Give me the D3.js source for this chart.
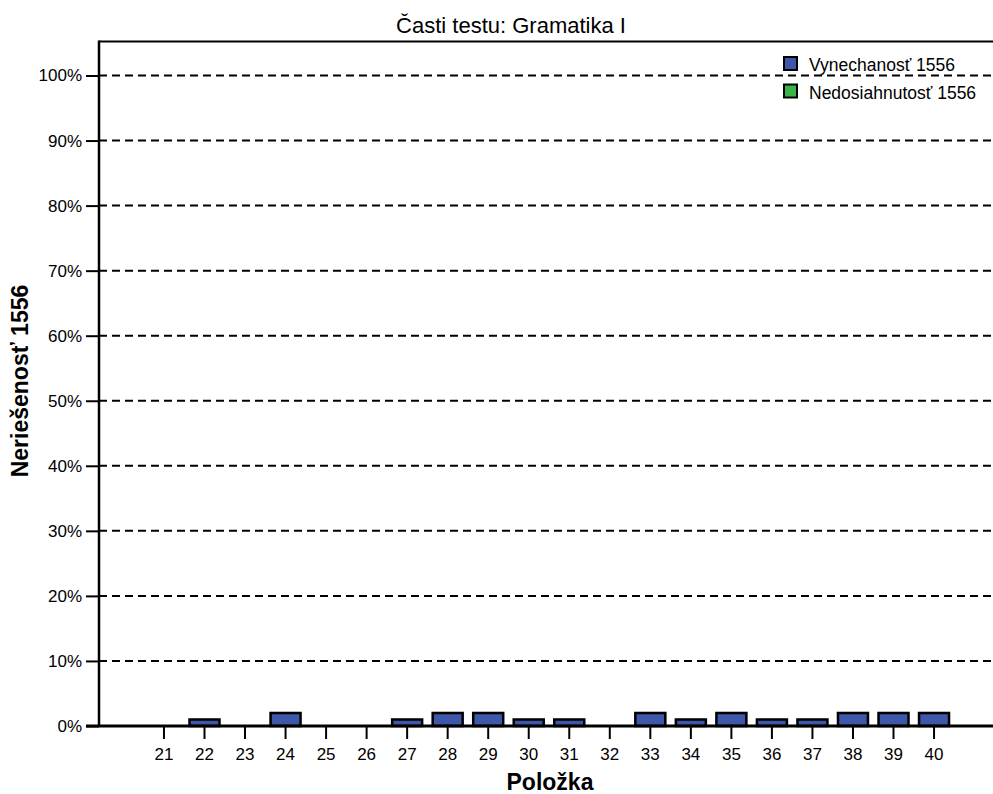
<!DOCTYPE html>
<html><head><meta charset="utf-8">
<script src="https://cdn.jsdelivr.net/npm/d3@7"></script>
<style>
body{margin:0;background:#fff;}
text{font-family:"Liberation Sans",Arial,sans-serif;}
</style></head>
<body><svg id="c" width="993" height="794"></svg>
<script>
const categories = ["21","22","23","24","25","26","27","28","29","30","31","32","33","34","35","36","37","38","39","40"];
const vynechanost = [0,1,0,2,0,0,1,2,2,1,1,0,2,1,2,1,1,2,2,2];
const nedosiahnutost = [0,0,0,0,0,0,0,0,0,0,0,0,0,0,0,0,0,0,0,0];
const yTicks = [0,10,20,30,40,50,60,70,80,90,100];
const legendLabels = ["Vynechanosť 1556","Nedosiahnutosť 1556"];
const colors = ["#3F57A9","#3BB34A"];

const svg = d3.select("#c");
const pLeft = 99, pRight = 993, pTop = 41.5, pBottom = 726;
const x = d3.scaleBand().domain(categories).range([143.7, 954.3]).padding(0);
const y = d3.scaleLinear().domain([0,100]).range([pBottom, 75.5]);
const FF = "Liberation Sans, Arial, sans-serif";

// gridlines
svg.append("g").selectAll("line").data(yTicks.filter(d=>d>0)).join("line")
  .attr("x1", pLeft).attr("x2", pRight)
  .attr("y1", d=>y(d)).attr("y2", d=>y(d))
  .attr("stroke","#000").attr("stroke-width",2).attr("stroke-dasharray","8,5");

// top frame
svg.append("line").attr("x1",pLeft).attr("x2",pRight).attr("y1",pTop).attr("y2",pTop)
  .attr("stroke","#000").attr("stroke-width",2);

// bars
const bw = 30;
svg.append("g").selectAll("rect").data(vynechanost).join("rect")
  .attr("x",(d,i)=>x(categories[i]) + x.bandwidth()/2 - bw/2)
  .attr("width",bw)
  .attr("y",d=>y(d)).attr("height",d=>y(0)-y(d))
  .attr("fill",colors[0]).attr("stroke","#000").attr("stroke-width",2.5);

// y axis
const yAxis = d3.axisLeft(y).tickValues(yTicks).tickFormat(d=>d+"%").tickSize(13).tickPadding(4);
const gy = svg.append("g").attr("transform",`translate(${pLeft},0)`).call(yAxis);
gy.select(".domain").remove();
gy.selectAll(".tick line").attr("stroke","#000").attr("stroke-width",2);
gy.selectAll(".tick text").attr("font-size",17).attr("fill","#000").attr("font-family",FF);
svg.append("line").attr("x1",pLeft).attr("x2",pLeft).attr("y1",pTop-1).attr("y2",pBottom+1)
  .attr("stroke","#000").attr("stroke-width",2.5);

// x axis
const xAxis = d3.axisBottom(x).tickSize(13).tickPadding(9);
const gx = svg.append("g").attr("transform",`translate(0,${pBottom})`).call(xAxis);
gx.select(".domain").remove();
gx.selectAll(".tick line").attr("stroke","#000").attr("stroke-width",2);
gx.selectAll(".tick text").attr("font-size",17).attr("fill","#000").attr("font-family",FF);
svg.append("line").attr("x1",pLeft-13).attr("x2",pRight).attr("y1",pBottom).attr("y2",pBottom)
  .attr("stroke","#000").attr("stroke-width",3);

// title
svg.append("text").attr("x",511).attr("y",33).attr("text-anchor","middle")
  .attr("font-size",22).text("Časti testu: Gramatika I");
// axis titles
svg.append("text").attr("x",550).attr("y",790).attr("text-anchor","middle")
  .attr("font-size",23).attr("font-weight","bold").text("Položka");
svg.append("text").attr("transform","translate(27.5,381) rotate(-90)").attr("text-anchor","middle")
  .attr("font-size",23).attr("font-weight","bold").text("Neriešenosť 1556");

// legend
const lg = svg.append("g").attr("transform","translate(784,57)");
legendLabels.forEach((t,i)=>{
  lg.append("rect").attr("x",0).attr("y",i*27.5).attr("width",13).attr("height",13)
    .attr("fill",colors[i]).attr("stroke","#000").attr("stroke-width",2);
  lg.append("text").attr("x",25).attr("y",i*27.5+14).attr("font-size",17.5).text(t);
});
</script></body></html>
